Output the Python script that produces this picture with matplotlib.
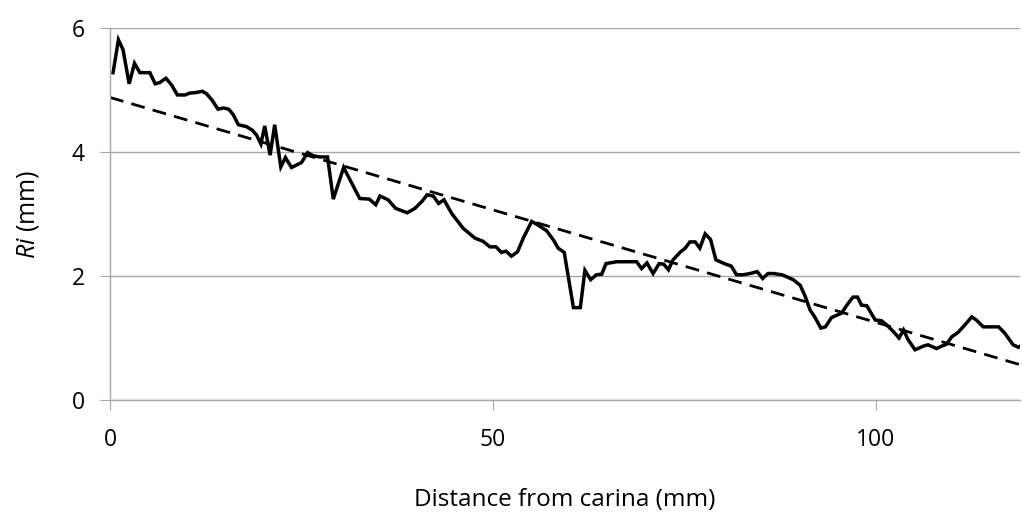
import matplotlib
matplotlib.use("Agg")
import matplotlib.pyplot as plt

distance_mm = [0.4, 1.1, 1.7, 2.5, 3.2, 3.9, 5.2, 5.9, 6.5, 7.3, 8.05, 8.8, 9.8, 10.4, 11.3, 12.05,
               12.6, 13.3, 14.1, 14.8, 15.5, 16.1, 16.75, 17.8, 18.6, 19.15, 19.7, 20.2, 20.9, 21.5,
               22.3, 22.9, 23.7, 25.0, 25.8, 26.5, 27.4, 28.4, 29.15, 30.5, 31.8, 32.6, 33.85, 34.7,
               35.25, 36.3, 37.3, 38.8, 39.8, 40.7, 41.4, 42.2, 42.9, 43.6, 44.6, 46.1, 47.65, 48.7,
               49.6, 50.4, 51.1, 51.7, 52.4, 53.2, 53.95, 55.05, 55.9, 57.0, 57.9, 58.5, 59.3, 60.5,
               61.4, 62.0, 62.75, 63.5, 64.2, 64.75, 66.15, 68.75, 69.4, 70.1, 70.9, 71.7, 72.3,
               72.9, 73.5, 74.4, 75.1, 75.7, 76.4, 77.0, 77.7, 78.4, 79.1, 80.2, 81.1, 81.8, 82.7,
               83.55, 84.5, 85.2, 85.9, 86.6, 87.7, 88.3, 89.2, 90.1, 90.7, 91.4, 92.0, 92.8, 93.4,
               94.2, 95.5, 96.2, 97.0, 97.6, 98.1, 98.8, 99.9, 100.7, 101.4, 102.3, 103.0, 103.6,
               104.2, 105.1, 106.2, 106.8, 107.9, 108.6, 109.2, 109.9, 110.7, 111.6, 112.5, 113.1,
               114.0, 116.0, 116.8, 117.9, 118.6, 119.0]
ri_mm = [5.28, 5.81, 5.65, 5.10, 5.43, 5.28, 5.28, 5.10, 5.12, 5.19, 5.08, 4.92, 4.92, 4.95, 4.96, 4.98,
         4.94, 4.84, 4.69, 4.71, 4.69, 4.60, 4.44, 4.41, 4.35, 4.27, 4.13, 4.42, 3.95, 4.44,
         3.76, 3.91, 3.75, 3.83, 3.99, 3.94, 3.92, 3.92, 3.24, 3.75, 3.44, 3.25, 3.24, 3.15,
         3.29, 3.23, 3.09, 3.02, 3.09, 3.20, 3.31, 3.29, 3.17, 3.23, 3.01, 2.77, 2.61, 2.56,
         2.47, 2.47, 2.38, 2.40, 2.32, 2.39, 2.61, 2.88, 2.82, 2.73, 2.58, 2.45, 2.38, 1.49,
         1.49, 2.09, 1.94, 2.02, 2.03, 2.20, 2.23, 2.23, 2.12, 2.21, 2.04, 2.20, 2.19,
         2.10, 2.26, 2.38, 2.45, 2.55, 2.55, 2.45, 2.68, 2.59, 2.26, 2.20, 2.16, 2.02, 2.02,
         2.04, 2.07, 1.96, 2.04, 2.04, 2.02, 1.99, 1.94, 1.85, 1.69, 1.45, 1.34, 1.16, 1.18,
         1.33, 1.40, 1.53, 1.66, 1.66, 1.53, 1.52, 1.29, 1.28, 1.21, 1.10, 1.00, 1.13,
         0.97, 0.81, 0.87, 0.89, 0.83, 0.87, 0.90, 1.02, 1.09, 1.21, 1.34, 1.29,
         1.18, 1.18, 1.08, 0.89, 0.85, 0.88]

trend_x = [0.0, 118.8]
trend_y = [4.88, 0.57]

x_ticks = [0, 50, 100]
y_ticks = [0, 2, 4, 6]

plt.rcParams['font.family'] = ['Open Sans', 'DejaVu Sans']
plt.rcParams['mathtext.fontset'] = 'custom'
plt.rcParams['mathtext.it'] = 'Open Sans:italic'
plt.rcParams['mathtext.rm'] = 'Open Sans'

fig = plt.figure(figsize=(10.22, 5.17), dpi=100)
ax = fig.add_axes([110 / 1022, 117 / 517, 910 / 1022, 372 / 517])

grid_c = '#a6a6a6'
ax.set_xlim(0, 118.8)
ax.set_ylim(0, 6)
ax.set_xticks(x_ticks)
ax.set_yticks(y_ticks)
ax.yaxis.grid(True, color=grid_c, linewidth=1.0)
ax.set_axisbelow(True)

for s in ['top', 'right']:
    ax.spines[s].set_visible(False)
for s in ['left', 'bottom']:
    ax.spines[s].set_color(grid_c)
    ax.spines[s].set_linewidth(1.0)

ax.tick_params(axis='y', direction='out', length=7, color=grid_c, labelsize=16.5, pad=11)
ax.tick_params(axis='x', direction='out', length=7, color=grid_c, labelsize=16.5, pad=13)

ax.plot(distance_mm, ri_mm, color='black', linewidth=2.5, solid_joinstyle='miter', clip_on=True)
ax.plot(trend_x, trend_y, color='black', linewidth=2.0, linestyle=(0, (5, 3)))

ax.set_xlabel('Distance from carina (mm)', fontsize=17.5, labelpad=26)
ax.set_ylabel(r'$\mathit{Ri}$ (mm)', fontsize=18, labelpad=22)

fig.savefig('out.png', dpi=100)
